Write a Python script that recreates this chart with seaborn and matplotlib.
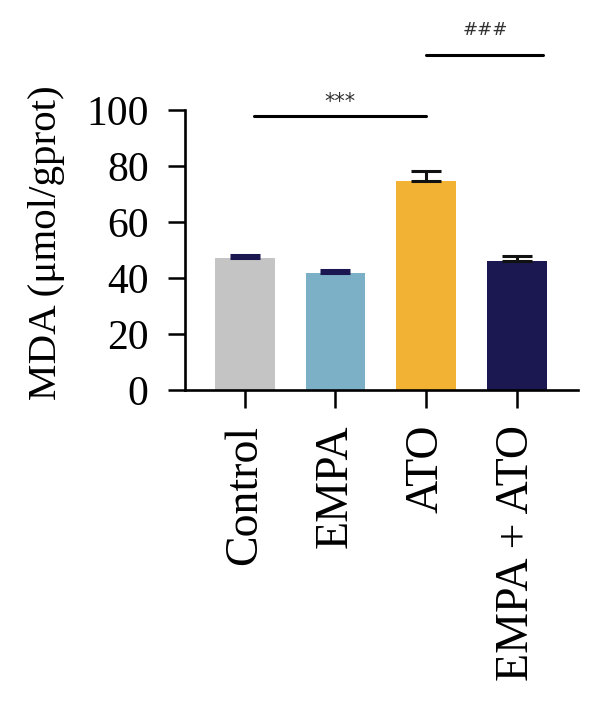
import numpy as np
import pandas as pd
import seaborn as sns
import matplotlib
matplotlib.use("Agg")
import matplotlib.pyplot as plt

# data
groups = ["Control", "EMPA", "ATO", "EMPA + ATO"]
mda_mean = [47.0, 41.7, 74.7, 46.2]
mda_err = [1.3, 1.2, 3.7, 1.8]
bar_colors = ["#c4c4c4", "#7bb0c6", "#f2b233", "#1b1750"]
err_colors = ["#1b1750", "#1b1750", "#111111", "#111111"]

sns.set_style("ticks")
plt.rcParams['font.family'] = ['Liberation Serif', 'DejaVu Serif']
plt.rcParams['text.color'] = 'black'
plt.rcParams['xtick.color'] = 'black'
plt.rcParams['ytick.color'] = 'black'
plt.rcParams['axes.labelcolor'] = 'black'

df = pd.DataFrame({"group": groups, "mda": mda_mean})

fig = plt.figure(figsize=(6, 7.11), dpi=100)
ax = fig.add_axes([0.308, 0.4515, 0.655, 0.3935])

sns.barplot(data=df, x="group", y="mda", hue="group", palette=bar_colors,
            order=groups, hue_order=groups, width=0.66, errorbar=None,
            legend=False, ax=ax, saturation=1, linewidth=0)

xpos = np.arange(len(groups))
for i in range(len(groups)):
  ax.errorbar(xpos[i], mda_mean[i], yerr=[[0], [mda_err[i]]], fmt="none",
              ecolor=err_colors[i], elinewidth=2.2, capsize=11, capthick=2.2)

ax.set_xlim(-0.66, 3.67)
ax.set_ylim(0, 100)
ax.set_yticks([0, 20, 40, 60, 80, 100])
ax.set_xlabel("")
ax.set_ylabel("MDA (μmol/gprot)", fontsize=29.5)
ax.yaxis.set_label_coords(-0.352, 0.525)
ax.yaxis.label.set_va("center")
ax.tick_params(axis="y", labelsize=30, length=12, width=1.8, pad=14)
ax.tick_params(axis="x", labelsize=33, length=13, width=1.8, pad=12)
for lab in ax.get_xticklabels():
  lab.set_rotation(90)
  lab.set_va("top")
  lab.set_ha("center")

sns.despine(ax=ax)
for sp in ["left", "bottom"]:
  ax.spines[sp].set_linewidth(1.9)
  ax.spines[sp].set_color("black")

# significance brackets
ax.plot([0.1, 2.0], [98.0, 98.0], color="black", lw=2.2, clip_on=False)
ax.text(1.05, 103.0, "***", ha="center", va="center", fontsize=15,
        family="DejaVu Sans", color="#333333")
ax.plot([2.0, 3.29], [119.6, 119.6], color="black", lw=2.2, clip_on=False)
ax.text(2.65, 128.5, "###", ha="center", va="center", fontsize=13,
        family="DejaVu Sans", color="#333333")

fig.savefig("out.png", dpi=100)
